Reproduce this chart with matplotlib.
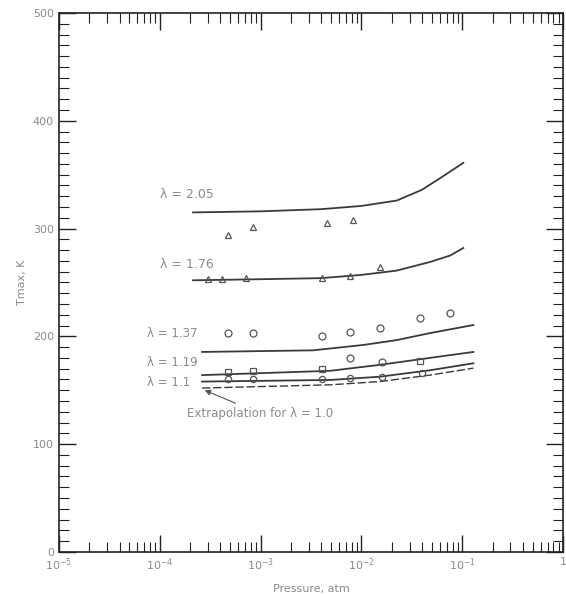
import numpy as np
import matplotlib.pyplot as plt
from matplotlib.ticker import LogLocator, MultipleLocator, FixedFormatter, FixedLocator

## curve data, log10(pressure) and value
lam_labels = ["λ = 2.05", "λ = 1.76", "λ = 1.37", "λ = 1.19", "λ = 1.1"]

c205_lp = [-3.67, -3.0, -2.4, -2.0, -1.65, -1.4, -1.2, -0.99]
c205_v = [315, 316, 318, 321, 326, 336, 348, 361]
c176_lp = [-3.67, -3.0, -2.4, -2.0, -1.65, -1.32, -1.12, -0.99]
c176_v = [252, 253, 254, 257, 261, 269, 275, 282]
c137_lp = [-3.58, -2.48, -1.98, -1.65, -1.32, -0.89]
c137_v = [185.5, 187, 192, 196.5, 203, 210.5]
c119_lp = [-3.58, -2.31, -1.82, -1.32, -0.89]
c119_v = [164, 168, 173.5, 180, 185.5]
c110_lp = [-3.58, -2.31, -1.82, -1.32, -0.89]
c110_v = [158, 159.5, 162.5, 168.5, 175]
c100_lp = [-3.58, -2.31, -1.82, -1.32, -0.89]
c100_v = [152, 155, 158, 164, 170.5]

## measured points
tri205_lp = [-3.32, -3.08, -2.34, -2.08]
tri205_v = [294, 301, 305, 308]
tri176_lp = [-3.52, -3.38, -3.14, -2.39, -2.11, -1.82]
tri176_v = [253, 253, 254, 254, 256, 264]
cir137_lp = [-3.32, -3.08, -2.39, -2.11, -1.82, -1.42, -1.12]
cir137_v = [203, 203, 200, 204, 208, 217, 222]
cir119_lp = [-2.11, -1.80]
cir119_v = [180, 176]
sq119_lp = [-3.32, -3.08, -2.39, -1.42]
sq119_v = [167, 168, 170, 177]
cir110_lp = [-3.32, -3.08, -2.39, -2.11, -1.80, -1.40]
cir110_v = [160, 160, 160, 161, 162, 166]

xtick_labels = ["$10^{-5}$", "$10^{-4}$", "$10^{-3}$", "$10^{-2}$", "$10^{-1}$", "1"]

def p(lp):
    return 10 ** np.array(lp)

fig = plt.figure(figsize=(5.66, 5.94), dpi=100)
ax = fig.add_axes([0.104, 0.071, 0.891, 0.907])

lc = "#3a3a3a"
for lp, v in [(c205_lp, c205_v), (c176_lp, c176_v), (c137_lp, c137_v),
              (c119_lp, c119_v), (c110_lp, c110_v)]:
    ax.plot(p(lp), v, color=lc, lw=1.3)
ax.plot(p(c100_lp), c100_v, color=lc, lw=1.0, ls=(0, (6, 2)))

mk = dict(ls="none", mfc="none", mec="#555555", mew=0.9)
ax.plot(p(tri205_lp), tri205_v, marker="^", ms=5, **mk)
ax.plot(p(tri176_lp), tri176_v, marker="^", ms=5, **mk)
ax.plot(p(cir137_lp), cir137_v, marker="o", ms=5, **mk)
ax.plot(p(cir119_lp), cir119_v, marker="o", ms=5, **mk)
ax.plot(p(sq119_lp), sq119_v, marker="s", ms=4.5, **mk)
ax.plot(p(cir110_lp), cir110_v, marker="o", ms=4.5, **mk)

tc = "#8a8a8a"
ax.text(10 ** -4.0, 328, lam_labels[0], color=tc, fontsize=9)
ax.text(10 ** -4.0, 263, lam_labels[1], color=tc, fontsize=9)
ax.text(10 ** -4.13, 203, lam_labels[2], color=tc, fontsize=8.5, va="center")
ax.text(10 ** -4.13, 176, lam_labels[3], color=tc, fontsize=8.5, va="center")
ax.text(10 ** -4.13, 157, lam_labels[4], color=tc, fontsize=8.5, va="center")
ax.annotate("Extrapolation for λ = 1.0", xy=(10 ** -3.58, 151),
            xytext=(10 ** -3.73, 125), color=tc, fontsize=8.5,
            arrowprops=dict(arrowstyle="-|>", color="#555555", lw=0.8))

ax.set_xscale("log")
ax.set_xlim(1e-5, 1)
ax.set_ylim(0, 500)
ax.xaxis.set_major_locator(FixedLocator([1e-5, 1e-4, 1e-3, 1e-2, 1e-1, 1]))
ax.xaxis.set_major_formatter(FixedFormatter(xtick_labels))
ax.xaxis.set_minor_locator(LogLocator(base=10, subs=np.arange(2, 10)))
ax.yaxis.set_major_locator(MultipleLocator(100))
ax.yaxis.set_minor_locator(MultipleLocator(10))
ax.tick_params(which="both", direction="in", top=True, right=True,
               colors="#222222", labelcolor=tc, labelsize=8)
ax.tick_params(which="major", length=12, width=1)
ax.tick_params(which="minor", length=7, width=0.8)
for s in ax.spines.values():
    s.set_color("#222222")
    s.set_linewidth(1.2)

ax.set_xlabel("Pressure, atm", color=tc, fontsize=8, labelpad=8)
ax.set_ylabel("Tmax, K", color=tc, fontsize=8, labelpad=4)

fig.savefig("out.png", dpi=100)
